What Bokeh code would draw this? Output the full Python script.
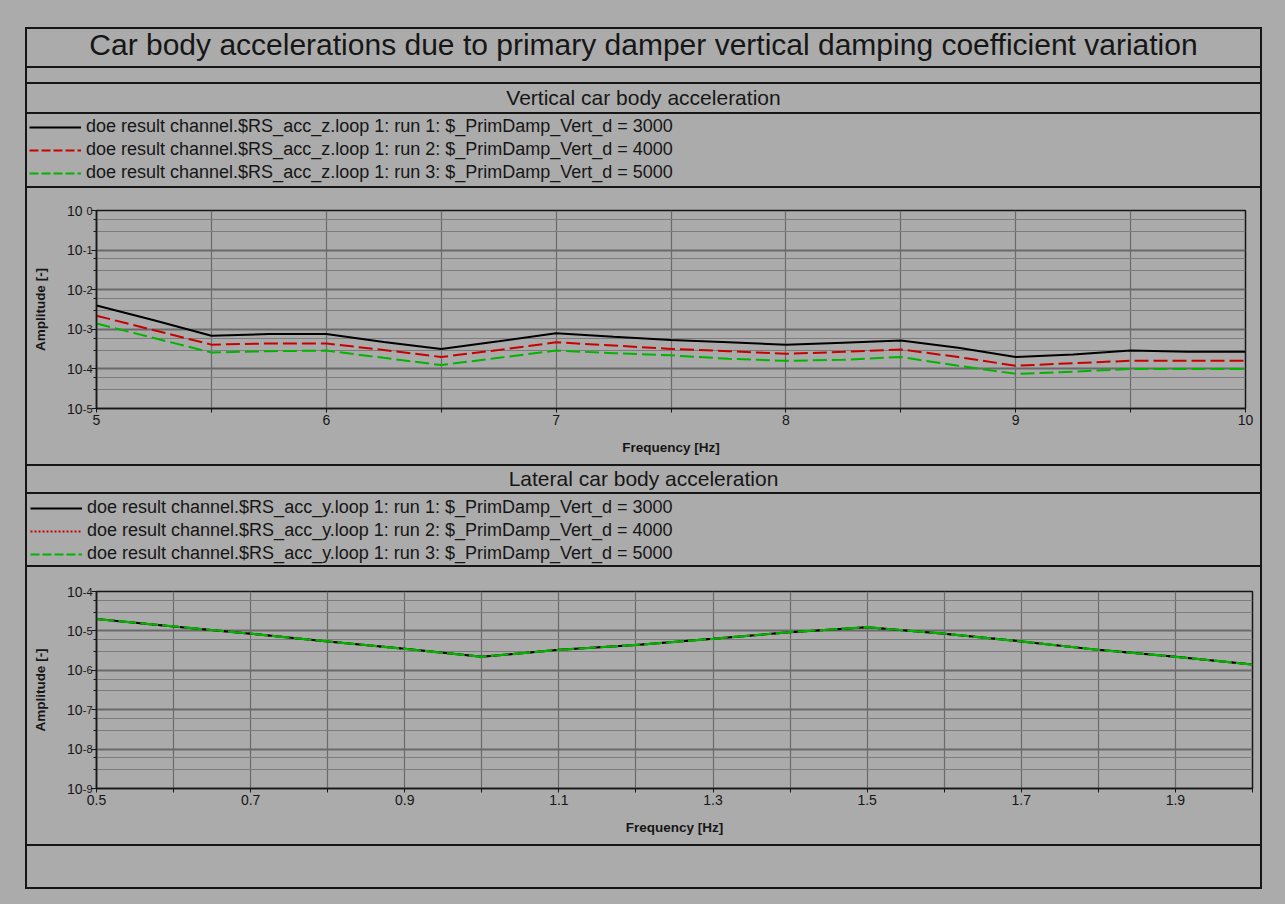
from bokeh.plotting import figure
from bokeh.models import (Div, FixedTicker, CustomJSTickFormatter, Legend, LegendItem, Range1d,
                          LogAxis)
from bokeh.layouts import column, row
from bokeh.embed import file_html
from bokeh.resources import INLINE

BG = "#ababab"
INK = "#161616"
FONT = "Liberation Sans"

# ---------------- texts ----------------
title_text = "Car body accelerations due to primary damper vertical damping coefficient variation"
sub_vertical = "Vertical car body acceleration"
sub_lateral = "Lateral car body acceleration"
legend_vertical = [
    "doe result channel.$RS_acc_z.loop 1: run 1: $_PrimDamp_Vert_d = 3000",
    "doe result channel.$RS_acc_z.loop 1: run 2: $_PrimDamp_Vert_d = 4000",
    "doe result channel.$RS_acc_z.loop 1: run 3: $_PrimDamp_Vert_d = 5000",
]
legend_lateral = [
    "doe result channel.$RS_acc_y.loop 1: run 1: $_PrimDamp_Vert_d = 3000",
    "doe result channel.$RS_acc_y.loop 1: run 2: $_PrimDamp_Vert_d = 4000",
    "doe result channel.$RS_acc_y.loop 1: run 3: $_PrimDamp_Vert_d = 5000",
]
x_label = "Frequency [Hz]"
y_label = "Amplitude [-]"

# ---------------- vertical data ----------------
freq_v = [5.0, 5.25, 5.5, 5.75, 6.0, 6.25, 6.5, 6.75, 7.0, 7.25, 7.5,
          7.75, 8.0, 8.25, 8.5, 8.75, 9.0, 9.25, 9.5, 9.75, 10.0]
acc_z_run1 = [4.0e-3, 1.7e-3, 6.9e-4, 7.6e-4, 7.6e-4, 4.8e-4, 3.2e-4, 5.0e-4, 7.9e-4, 6.5e-4, 5.4e-4,
              4.7e-4, 4.1e-4, 4.6e-4, 5.2e-4, 3.4e-4, 2.0e-4, 2.3e-4, 2.9e-4, 2.7e-4, 2.7e-4]
acc_z_run2 = [2.2e-3, 9.5e-4, 4.1e-4, 4.4e-4, 4.4e-4, 3.0e-4, 2.0e-4, 3.0e-4, 4.7e-4, 3.9e-4, 3.2e-4,
              2.8e-4, 2.4e-4, 2.7e-4, 3.1e-4, 2.0e-4, 1.2e-4, 1.4e-4, 1.6e-4, 1.6e-4, 1.6e-4]
acc_z_run3 = [1.4e-3, 6.0e-4, 2.6e-4, 2.8e-4, 2.9e-4, 1.9e-4, 1.25e-4, 1.9e-4, 2.9e-4, 2.5e-4, 2.2e-4,
              1.8e-4, 1.6e-4, 1.7e-4, 2.0e-4, 1.2e-4, 7.5e-5, 8.5e-5, 1.0e-4, 1.0e-4, 1.0e-4]

# ---------------- lateral data ----------------
freq_l = [0.5, 0.6, 0.7, 0.8, 0.9, 1.0, 1.1, 1.2, 1.3, 1.4, 1.5, 1.6, 1.7, 1.8, 1.9, 2.0]
acc_y_run1 = [2.0e-5, 1.3e-5, 8.5e-6, 5.4e-6, 3.5e-6, 2.2e-6, 3.3e-6, 4.4e-6,
              6.3e-6, 9.3e-6, 1.24e-5, 8.5e-6, 5.4e-6, 3.3e-6, 2.2e-6, 1.4e-6]
acc_y_run2 = [2.0e-5, 1.3e-5, 8.5e-6, 5.4e-6, 3.5e-6, 2.2e-6, 3.3e-6, 4.4e-6,
              6.3e-6, 9.3e-6, 1.24e-5, 8.5e-6, 5.4e-6, 3.3e-6, 2.2e-6, 1.4e-6]
acc_y_run3 = [2.0e-5, 1.3e-5, 8.5e-6, 5.4e-6, 3.5e-6, 2.2e-6, 3.3e-6, 4.4e-6,
              6.3e-6, 9.3e-6, 1.24e-5, 8.5e-6, 5.4e-6, 3.3e-6, 2.2e-6, 1.4e-6]

# ---------------- ticks ----------------
x_ticks_v = [5, 6, 7, 8, 9, 10]
x_minor_v = [5.5, 6.5, 7.5, 8.5, 9.5]
y_exp_v = [-5, -4, -3, -2, -1, 0]
x_ticks_l = [0.5, 0.7, 0.9, 1.1, 1.3, 1.5, 1.7, 1.9]
x_minor_l = [0.6, 0.8, 1.0, 1.2, 1.4, 1.6, 1.8, 2.0]
y_exp_l = [-9, -8, -7, -6, -5, -4]

W = 1233
NAN = float("nan")


def box(w, h, color=BG, html=""):
    return Div(text=html, width=w, height=h, margin=(0, 0, 0, 0),
               styles={"background-color": color, "padding": "0", "margin": "0"})


def hline(h=2):
    return box(W, h, INK)


def text_div(txt, h, size, lh):
    html = (f'<div style="width:{W}px;height:{h}px;line-height:{lh}px;text-align:center;'
            f'font-family:\'{FONT}\',Arial,sans-serif;font-size:{size}px;color:{INK};'
            f'white-space:nowrap;overflow:hidden;margin:0;padding:0">{txt}</div>')
    return box(W, h, BG, html)


def legend_fig(h, labels, line_styles, pad):
    f = figure(width=W, height=h, x_range=(0, 1), y_range=(0, 1), x_axis_type=None, y_axis_type=None,
               toolbar_location=None, output_backend="svg", frame_align=False,
               min_border_left=0, min_border_right=0, min_border_top=0, min_border_bottom=0,
               outline_line_color=None, background_fill_color=BG, border_fill_color=BG)
    items = []
    for lab, st in zip(labels, line_styles):
        r = f.line(x=[NAN], y=[NAN], **st)
        items.append(LegendItem(label=lab, renderers=[r]))
    leg = Legend(items=items, location="top_left", orientation="vertical", margin=0, padding=pad,
                 spacing=2, glyph_width=52, glyph_height=20, label_height=20, label_standoff=5,
                 label_text_font=FONT, label_text_font_size="18px", label_text_color=INK,
                 background_fill_alpha=0, border_line_alpha=0)
    f.add_layout(leg)
    return f


def plot_fig(h, xr, yr, xt, xm, yexp, top, right):
    p = figure(width=W, height=h, x_range=Range1d(*xr), y_range=Range1d(*yr), y_axis_type="log",
               toolbar_location=None, output_backend="svg", frame_align=False,
               min_border_left=69, min_border_right=right, min_border_top=top, min_border_bottom=56,
               background_fill_color=BG, border_fill_color=BG,
               outline_line_color=INK, outline_line_width=1.5)
    xtick = FixedTicker(ticks=xt, minor_ticks=xm)
    ymaj = [10.0 ** e for e in yexp]
    ymin = [m * 10.0 ** e for e in yexp[:-1] for m in (3, 6)]
    ytick = FixedTicker(ticks=ymaj, minor_ticks=ymin)
    p.xaxis.ticker = xtick
    p.yaxis.ticker = ytick
    p.xgrid.ticker = xtick
    p.ygrid.ticker = ytick
    # inner left axis: ticks + raised exponents; outer left axis: the "10" bases + axis title
    outer = LogAxis(ticker=ytick)
    p.add_layout(outer, "left")
    inner = p.yaxis[0]
    inner.formatter = CustomJSTickFormatter(code="return String(Math.round(Math.log10(tick)));")
    outer.formatter = CustomJSTickFormatter(code="return '10';")
    for ax in (p.xaxis[0], inner, outer):
        ax.axis_line_color = INK
        ax.axis_line_width = 1.5
        ax.major_tick_line_color = INK
        ax.minor_tick_line_color = INK
        ax.major_tick_in = 0
        ax.minor_tick_in = 0
        ax.major_label_text_font = FONT
        ax.major_label_text_font_size = "14px"
        ax.major_label_text_color = INK
        ax.axis_label_text_font = FONT
        ax.axis_label_text_font_size = "13.5px"
        ax.axis_label_text_font_style = "bold"
        ax.axis_label_text_color = INK
    p.xaxis.major_tick_out = 4
    p.xaxis.minor_tick_out = 4
    p.xaxis.major_label_standoff = 2
    p.xaxis.axis_label = x_label
    p.xaxis.axis_label_standoff = 12
    inner.major_tick_out = 5
    inner.minor_tick_out = 3
    inner.major_label_standoff = -1
    inner.major_label_text_font_size = "11px"
    inner.major_label_text_baseline = "bottom"
    outer.axis_line_color = None
    outer.major_tick_line_color = None
    outer.minor_tick_line_color = None
    outer.major_tick_out = 0
    outer.minor_tick_out = 0
    outer.major_label_standoff = -3
    outer.axis_label = y_label
    outer.axis_label_standoff = 16
    p.xgrid.grid_line_color = "#6a6a6a"
    p.xgrid.minor_grid_line_color = "#6a6a6a"
    p.xgrid.grid_line_width = 1.2
    p.xgrid.minor_grid_line_width = 1.2
    p.ygrid.grid_line_color = "#6a6a6a"
    p.ygrid.grid_line_width = 2
    p.ygrid.minor_grid_line_color = "#7c7c7c"
    p.ygrid.minor_grid_line_width = 1.2
    return p


# ---------------- vertical section ----------------
pv = plot_fig(276, (5, 10), (1e-5, 1), x_ticks_v, x_minor_v, y_exp_v, top=22, right=15)
pv.line(freq_v, acc_z_run1, line_color="#000000", line_width=2)
pv.line(freq_v, acc_z_run2, line_color="#c80000", line_width=2, line_dash="14 5")
pv.line(freq_v, acc_z_run3, line_color="#00b400", line_width=2, line_dash="14 5")

lv = legend_fig(72, legend_vertical, [
    dict(line_color="#000000", line_width=2),
    dict(line_color="#c80000", line_width=2, line_dash="9 3"),
    dict(line_color="#00b400", line_width=2, line_dash="9 3"),
], pad=2)

# ---------------- lateral section ----------------
pl = plot_fig(277, (0.5, 2.0), (1e-9, 1e-4), x_ticks_l, x_minor_l, y_exp_l, top=24, right=8)
pl.line(freq_l, acc_y_run2, line_color="#c80000", line_width=2, line_dash="2 2")
pl.line(freq_l, acc_y_run1, line_color="#000000", line_width=2)
pl.line(freq_l, acc_y_run3, line_color="#00b400", line_width=2.2, line_dash="18 4")

ll = legend_fig(71, legend_lateral, [
    dict(line_color="#000000", line_width=2),
    dict(line_color="#c80000", line_width=2, line_dash="2 2"),
    dict(line_color="#00b400", line_width=2, line_dash="9 3"),
], pad=3)

content = column(
    hline(), text_div(title_text, 37, 30, 32), hline(), box(W, 14), hline(),
    text_div(sub_vertical, 28, 21, 27), hline(), lv, hline(), pv, hline(),
    text_div(sub_lateral, 26, 21, 25), hline(), ll, hline(), pl, hline(),
    box(W, 41), hline(),
    spacing=0,
)

body = row(box(25, 862), box(2, 862, INK), content, box(2, 862, INK), box(18, 862),
           spacing=0)
root = column(box(1280, 27), body, box(1280, 10), spacing=0,
              styles={"background-color": BG})

try:
    from bokeh.models import GlobalInlineStyleSheet
    root.stylesheets = [GlobalInlineStyleSheet(
        css="html, body { background-color: #ababab; margin: 0; padding: 0; }")]
except Exception:
    pass

open("out.html", "w").write(file_html(root, INLINE))
